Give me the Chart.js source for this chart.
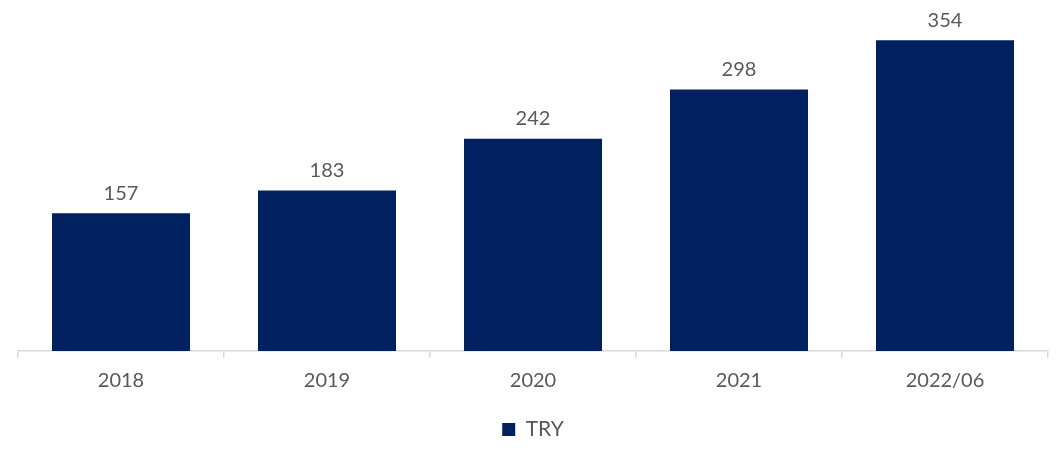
<!DOCTYPE html>
<html>
<head>
<meta charset="utf-8">
<script src="https://cdn.jsdelivr.net/npm/chart.js@4"></script>
<style>
  html, body { margin: 0; padding: 0; background: #fff; }
  #wrap { width: 1063px; height: 450px; }
</style>
</head>
<body>
<div id="wrap"><canvas id="chart"></canvas></div>
<script>
const categories = ['2018', '2019', '2020', '2021', '2022/06'];
const seriesName = 'TRY';
const values = [157, 183, 242, 298, 354];

const barColor = '#002060';
const textColor = '#595959';
const fontFamily = 'Lato, sans-serif';

// draw the value above each bar
const valueLabels = {
  id: 'valueLabels',
  afterDatasetsDraw(chart) {
    const ctx = chart.ctx;
    const meta = chart.getDatasetMeta(0);
    ctx.save();
    ctx.fillStyle = textColor;
    ctx.font = '20px ' + fontFamily;
    ctx.textAlign = 'center';
    ctx.textBaseline = 'bottom';
    meta.data.forEach((bar, i) => {
      ctx.fillText(values[i], bar.x, bar.y - 10);
    });
    ctx.restore();
  }
};

const ctx = document.getElementById('chart').getContext('2d');
new Chart(ctx, {
  type: 'bar',
  data: {
    labels: categories,
    datasets: [{
      label: seriesName,
      data: values,
      backgroundColor: barColor,
      barPercentage: 0.67,
      categoryPercentage: 1
    }]
  },
  options: {
    responsive: true,
    maintainAspectRatio: false,
    animation: false,
    layout: { padding: { left: 18, right: 15, top: 0, bottom: 0 } },
    plugins: {
      legend: {
        position: 'bottom',
        labels: {
          color: textColor,
          font: { family: fontFamily, size: 21 },
          boxWidth: 13,
          boxHeight: 13,
          padding: 4
        }
      },
      tooltip: { enabled: false }
    },
    scales: {
      x: {
        grid: {
          drawOnChartArea: false,
          color: '#d9d9d9',
          tickLength: 7,
          lineWidth: 1.5
        },
        border: { color: '#d9d9d9', width: 1.5 },
        ticks: {
          color: textColor,
          font: { family: fontFamily, size: 20 },
          padding: 11
        },
        afterFit(scale) {
          scale.height += 11;
        }
      },
      y: {
        display: false,
        min: 0,
        max: 400
      }
    }
  },
  plugins: [valueLabels]
});
</script>
</body>
</html>
